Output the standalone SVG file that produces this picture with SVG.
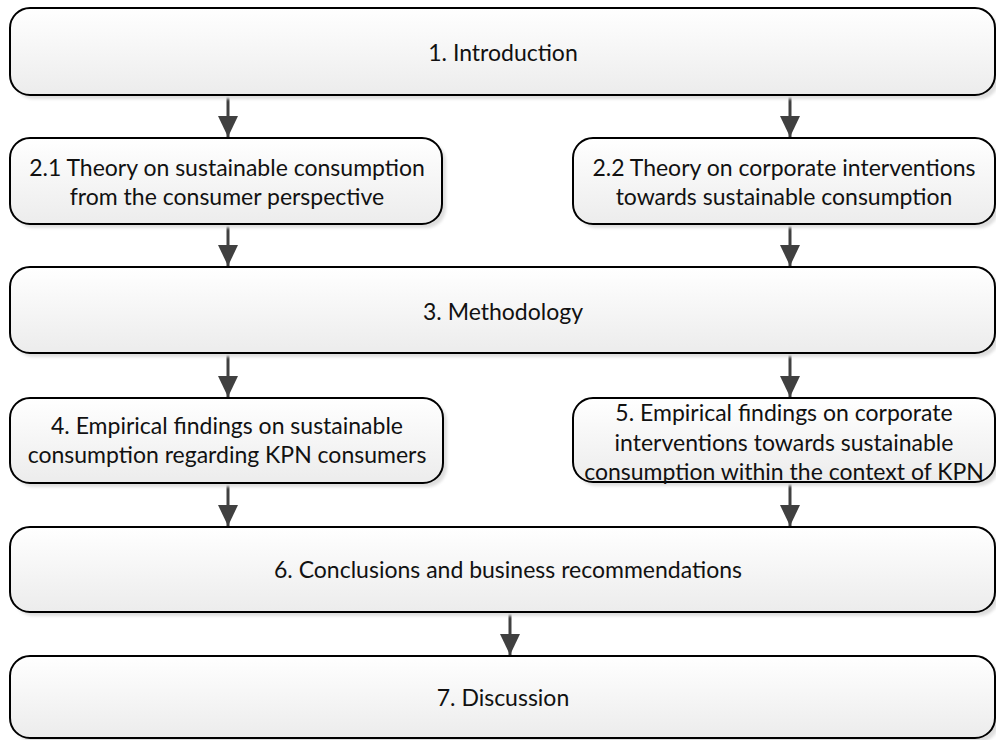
<svg xmlns="http://www.w3.org/2000/svg" width="996" height="740" viewBox="0 0 996 740">
  <defs>
    <linearGradient id="boxFill" x1="0" y1="0" x2="0" y2="1">
      <stop offset="0" stop-color="#ffffff"/>
      <stop offset="1" stop-color="#ececec"/>
    </linearGradient>
    <filter id="soft" x="-5%" y="-20%" width="110%" height="140%">
      <feGaussianBlur stdDeviation="1.5"/>
    </filter>
    <marker id="head" markerUnits="userSpaceOnUse" markerWidth="22" markerHeight="20" viewBox="0 0 22 20" refX="21" refY="10" orient="auto">
      <path d="M0,0 L21,10 L0,20 Z" fill="#404040"/>
    </marker>
  </defs>
  <style>
    .shadow { fill: #dedede; filter: url(#soft); }
    .box { fill: url(#boxFill); stroke: #000; stroke-width: 2; }
    .label { font-family: "Lato", "Liberation Sans", sans-serif; font-size: 23px; fill: #111; text-anchor: middle; }
    .edge { stroke: #404040; stroke-width: 3; fill: none; marker-end: url(#head); }
  </style>

  <g id="connectors">
    <path class="edge" d="M228,95 V137"/>
    <path class="edge" d="M790,95 V137"/>
    <path class="edge" d="M228,224 V266"/>
    <path class="edge" d="M790,224 V266"/>
    <path class="edge" d="M228,353 V397"/>
    <path class="edge" d="M790,353 V397"/>
    <path class="edge" d="M228,483 V526"/>
    <path class="edge" d="M790,482 V526"/>
    <path class="edge" d="M510,612 V655"/>
  </g>

  <g id="n1">
    <rect class="shadow" x="14" y="12" width="985" height="87" rx="20"/>
    <rect class="box" x="10" y="8" width="985" height="87" rx="20"/>
    <text class="label" x="503" y="61">1. Introduction</text>
  </g>

  <g id="n21">
    <rect class="shadow" x="14" y="142" width="432" height="86" rx="20"/>
    <rect class="box" x="10" y="138" width="432" height="86" rx="20"/>
    <text class="label" x="227" y="176">2.1 Theory on sustainable consumption</text>
    <text class="label" x="227" y="205">from the consumer perspective</text>
  </g>

  <g id="n22">
    <rect class="shadow" x="577" y="142" width="422" height="86" rx="20"/>
    <rect class="box" x="573" y="138" width="422" height="86" rx="20"/>
    <text class="label" x="784" y="176">2.2 Theory on corporate interventions</text>
    <text class="label" x="784" y="205">towards sustainable consumption</text>
  </g>

  <g id="n3">
    <rect class="shadow" x="14" y="271" width="985" height="86" rx="20"/>
    <rect class="box" x="10" y="267" width="985" height="86" rx="20"/>
    <text class="label" x="503" y="320">3. Methodology</text>
  </g>

  <g id="n4">
    <rect class="shadow" x="14" y="402" width="433" height="85" rx="20"/>
    <rect class="box" x="10" y="398" width="433" height="85" rx="20"/>
    <text class="label" x="227" y="434">4. Empirical findings on sustainable</text>
    <text class="label" x="227" y="463">consumption regarding KPN consumers</text>
  </g>

  <g id="n5">
    <rect class="shadow" x="577" y="402" width="422" height="84" rx="20"/>
    <rect class="box" x="573" y="398" width="422" height="84" rx="20"/>
    <text class="label" x="784" y="421">5. Empirical findings on corporate</text>
    <text class="label" x="784" y="451">interventions towards sustainable</text>
    <text class="label" x="784" y="480">consumption within the context of KPN</text>
  </g>

  <g id="n6">
    <rect class="shadow" x="14" y="531" width="985" height="85" rx="20"/>
    <rect class="box" x="10" y="527" width="985" height="85" rx="20"/>
    <text class="label" x="508" y="578">6. Conclusions and business recommendations</text>
  </g>

  <g id="n7">
    <rect class="shadow" x="14" y="660" width="985" height="82" rx="20"/>
    <rect class="box" x="10" y="656" width="985" height="82" rx="20"/>
    <text class="label" x="503" y="706">7. Discussion</text>
  </g>
</svg>
